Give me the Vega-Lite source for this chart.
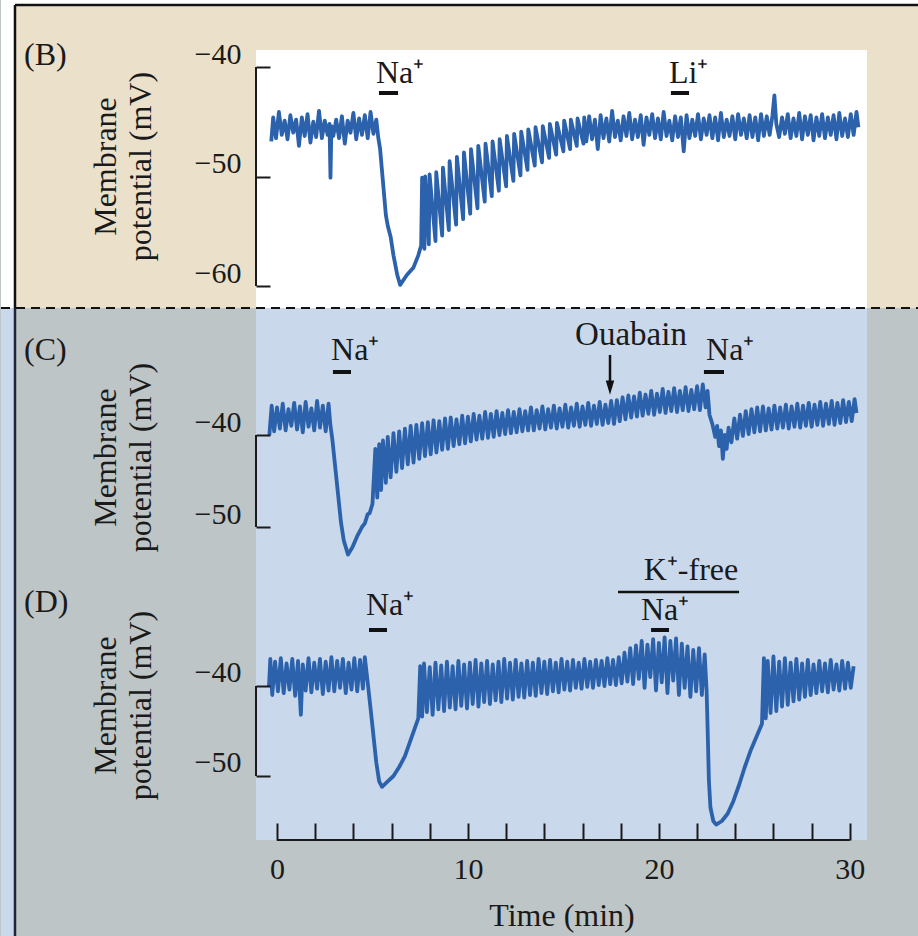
{
"$schema": "https://vega.github.io/schema/vega-lite/v6.json",
"background": "#bec5c6",
"padding": 0,
"autosize": {"type": "pad"},
"spacing": 0,
"bounds": "flush",
"resolve": {"scale": {"x": "independent", "y": "independent"}},
"config": {
  "view": {"stroke": null},
  "font": "Liberation Serif",
  "axis": {"grid": false, "zindex": 1, "labelFont": "Liberation Serif", "titleFont": "Liberation Serif", "labelColor": "#1a1a1a", "titleColor": "#1a1a1a", "tickColor": "#1a1a1a", "titleFontWeight": "normal", "labelFontSize": 30, "titleFontSize": 32, "tickWidth": 2, "labelFlush": false, "labelOverlap": false}
},
"datasets": {
"traceB": [
{"t":-0.3,"v":-46.8},{"t":-0.2,"v":-44.6},{"t":-0.05,"v":-46.5},{"t":0.1,"v":-44.1},{"t":0.25,"v":-46.2},{"t":0.4,"v":-44.9},{"t":0.55,"v":-46.6},{"t":0.7,"v":-44.4},
{"t":0.85,"v":-46.0},{"t":1.0,"v":-44.8},{"t":1.15,"v":-47.2},{"t":1.3,"v":-44.6},{"t":1.45,"v":-46.3},{"t":1.6,"v":-44.3},{"t":1.75,"v":-46.9},{"t":1.9,"v":-45.0},
{"t":2.05,"v":-46.4},{"t":2.2,"v":-44.0},{"t":2.35,"v":-46.5},{"t":2.5,"v":-44.9},{"t":2.65,"v":-46.2},{"t":2.75,"v":-45.2},{"t":2.8,"v":-50.1},{"t":2.85,"v":-45.4},
{"t":2.95,"v":-46.3},{"t":3.1,"v":-44.8},{"t":3.25,"v":-46.5},{"t":3.4,"v":-44.5},{"t":3.55,"v":-47.0},{"t":3.7,"v":-44.9},{"t":3.85,"v":-46.0},{"t":4.0,"v":-44.2},
{"t":4.15,"v":-46.6},{"t":4.3,"v":-44.7},{"t":4.45,"v":-46.2},{"t":4.6,"v":-44.4},{"t":4.75,"v":-46.5},{"t":4.9,"v":-44.1},{"t":5.05,"v":-46.1},{"t":5.2,"v":-44.8},
{"t":5.3,"v":-46.4},{"t":5.4,"v":-47.5},{"t":5.5,"v":-49.5},{"t":5.6,"v":-51.5},{"t":5.7,"v":-53.5},{"t":5.8,"v":-54.5},{"t":5.95,"v":-55.5},{"t":6.1,"v":-57.2},
{"t":6.3,"v":-59.0},{"t":6.45,"v":-59.9},{"t":6.8,"v":-59.0},{"t":7.15,"v":-58.3},{"t":7.4,"v":-57.2},{"t":7.55,"v":-56.3},
{"t":7.6,"v":-50.1},{"t":7.72,"v":-56.6},{"t":7.76,"v":-50.0},{"t":7.95,"v":-56.2},{"t":7.99,"v":-49.8},{"t":8.3,"v":-55.9},{"t":8.34,"v":-49.6},{"t":8.65,"v":-55.4},
{"t":8.69,"v":-49.2},{"t":9.0,"v":-54.9},{"t":9.04,"v":-48.6},{"t":9.38,"v":-54.4},{"t":9.42,"v":-48.2},{"t":9.75,"v":-53.9},{"t":9.79,"v":-47.8},{"t":10.12,"v":-53.4},
{"t":10.16,"v":-47.5},{"t":10.5,"v":-52.9},{"t":10.54,"v":-47.2},{"t":10.88,"v":-52.3},{"t":10.92,"v":-47.0},{"t":11.25,"v":-51.8},{"t":11.29,"v":-46.8},{"t":11.62,"v":-51.3},
{"t":11.66,"v":-46.6},{"t":12.0,"v":-50.9},{"t":12.04,"v":-46.3},{"t":12.38,"v":-50.4},{"t":12.42,"v":-46.1},{"t":12.75,"v":-49.9},{"t":12.79,"v":-45.9},{"t":13.12,"v":-49.4},
{"t":13.16,"v":-45.7},{"t":13.5,"v":-49.0},{"t":13.54,"v":-45.5},{"t":13.88,"v":-48.7},{"t":13.92,"v":-45.4},{"t":14.25,"v":-48.3},{"t":14.29,"v":-45.2},{"t":14.62,"v":-48.0},
{"t":14.66,"v":-45.1},{"t":15.0,"v":-47.7},{"t":15.04,"v":-44.9},{"t":15.35,"v":-47.5},{"t":15.39,"v":-44.8},{"t":15.7,"v":-47.2},{"t":15.74,"v":-44.7},{"t":16.05,"v":-47.0},
{"t":16.09,"v":-44.6},{"t":16.2,"v":-46.8},{"t":16.35,"v":-44.5},{"t":16.5,"v":-46.6},{"t":16.65,"v":-44.8},{"t":16.8,"v":-47.5},{"t":16.95,"v":-44.4},{"t":17.1,"v":-46.5},
{"t":17.25,"v":-44.7},{"t":17.4,"v":-46.8},{"t":17.55,"v":-44.0},{"t":17.7,"v":-46.4},{"t":17.85,"v":-44.9},{"t":18.0,"v":-46.7},{"t":18.15,"v":-44.5},{"t":18.3,"v":-46.3},
{"t":18.45,"v":-44.2},{"t":18.6,"v":-46.6},{"t":18.75,"v":-44.8},{"t":18.9,"v":-46.4},{"t":19.05,"v":-44.4},{"t":19.2,"v":-47.1},{"t":19.35,"v":-44.6},{"t":19.5,"v":-46.2},
{"t":19.65,"v":-44.3},{"t":19.8,"v":-46.5},{"t":19.95,"v":-44.7},{"t":20.1,"v":-46.6},{"t":20.25,"v":-44.1},{"t":20.4,"v":-46.3},{"t":20.55,"v":-44.9},{"t":20.7,"v":-46.7},
{"t":20.85,"v":-44.5},{"t":21.0,"v":-46.4},{"t":21.15,"v":-44.6},{"t":21.3,"v":-47.7},{"t":21.45,"v":-44.4},{"t":21.6,"v":-46.5},{"t":21.75,"v":-44.8},{"t":21.9,"v":-46.3},
{"t":22.05,"v":-44.3},{"t":22.2,"v":-46.6},{"t":22.35,"v":-44.7},{"t":22.5,"v":-46.2},{"t":22.65,"v":-44.4},{"t":22.8,"v":-46.5},{"t":22.95,"v":-44.6},{"t":23.1,"v":-46.7},
{"t":23.25,"v":-44.2},{"t":23.4,"v":-46.4},{"t":23.55,"v":-44.8},{"t":23.7,"v":-46.3},{"t":23.85,"v":-44.5},{"t":24.0,"v":-46.6},{"t":24.15,"v":-44.3},{"t":24.3,"v":-46.2},
{"t":24.45,"v":-44.7},{"t":24.6,"v":-46.5},{"t":24.75,"v":-44.4},{"t":24.9,"v":-46.4},{"t":25.05,"v":-44.6},{"t":25.2,"v":-46.7},{"t":25.35,"v":-44.3},{"t":25.5,"v":-46.3},
{"t":25.65,"v":-44.5},{"t":25.8,"v":-46.2},{"t":25.95,"v":-44.4},{"t":26.05,"v":-42.6},{"t":26.15,"v":-45.2},{"t":26.3,"v":-46.4},{"t":26.45,"v":-44.6},{"t":26.6,"v":-46.1},
{"t":26.75,"v":-44.3},{"t":26.9,"v":-46.5},{"t":27.05,"v":-44.7},{"t":27.2,"v":-46.3},{"t":27.35,"v":-44.2},{"t":27.5,"v":-46.6},{"t":27.65,"v":-44.5},{"t":27.8,"v":-46.2},
{"t":27.95,"v":-44.4},{"t":28.1,"v":-46.7},{"t":28.25,"v":-44.6},{"t":28.4,"v":-46.3},{"t":28.55,"v":-44.3},{"t":28.7,"v":-46.5},{"t":28.85,"v":-44.6},{"t":29.0,"v":-46.2},
{"t":29.15,"v":-44.4},{"t":29.3,"v":-46.6},{"t":29.45,"v":-44.2},{"t":29.6,"v":-46.3},{"t":29.75,"v":-44.7},{"t":29.9,"v":-46.4},{"t":30.05,"v":-44.3},{"t":30.2,"v":-46.2},
{"t":30.35,"v":-44.1},{"t":30.45,"v":-45.5}
],
"traceC": [
{"t":-0.4,"v":-40.0},{"t":-0.28,"v":-36.8},{"t":-0.15,"v":-39.6},{"t":0.0,"v":-37.0},{"t":0.15,"v":-39.3},{"t":0.3,"v":-36.6},{"t":0.45,"v":-39.5},{"t":0.6,"v":-37.2},
{"t":0.75,"v":-39.0},{"t":0.9,"v":-36.5},{"t":1.05,"v":-39.4},{"t":1.2,"v":-36.9},{"t":1.35,"v":-39.7},{"t":1.5,"v":-36.4},{"t":1.65,"v":-39.1},{"t":1.8,"v":-37.1},
{"t":1.95,"v":-39.5},{"t":2.1,"v":-36.3},{"t":2.25,"v":-39.2},{"t":2.4,"v":-36.8},{"t":2.55,"v":-39.6},{"t":2.7,"v":-36.6},{"t":2.8,"v":-39.0},{"t":2.9,"v":-40.5},
{"t":3.05,"v":-43.5},{"t":3.2,"v":-46.5},{"t":3.35,"v":-49.5},{"t":3.5,"v":-51.5},{"t":3.72,"v":-53.0},{"t":3.95,"v":-52.2},{"t":4.2,"v":-51.0},{"t":4.45,"v":-50.0},
{"t":4.6,"v":-49.6},{"t":4.75,"v":-48.6},{"t":4.85,"v":-48.5},{"t":5.0,"v":-47.5},{"t":5.15,"v":-41.5},{"t":5.25,"v":-46.8},{"t":5.35,"v":-41.0},{"t":5.45,"v":-46.0},
{"t":5.55,"v":-40.6},{"t":5.7,"v":-45.2},{"t":5.8,"v":-40.2},{"t":5.95,"v":-44.6},{"t":6.1,"v":-39.8},{"t":6.25,"v":-44.0},{"t":6.4,"v":-39.6},{"t":6.55,"v":-43.6},
{"t":6.7,"v":-39.3},{"t":6.85,"v":-43.2},{"t":7.0,"v":-39.0},{"t":7.15,"v":-43.0},{"t":7.3,"v":-38.9},{"t":7.45,"v":-42.6},{"t":7.6,"v":-38.7},{"t":7.75,"v":-42.3},
{"t":7.9,"v":-38.6},{"t":8.05,"v":-42.1},{"t":8.2,"v":-38.4},{"t":8.35,"v":-41.9},{"t":8.5,"v":-38.5},{"t":8.65,"v":-41.6},{"t":8.8,"v":-38.2},{"t":8.95,"v":-41.5},
{"t":9.1,"v":-38.1},{"t":9.25,"v":-41.2},{"t":9.4,"v":-38.3},{"t":9.55,"v":-41.0},{"t":9.7,"v":-37.9},{"t":9.85,"v":-40.9},{"t":10.0,"v":-38.0},{"t":10.15,"v":-40.7},
{"t":10.3,"v":-37.7},{"t":10.45,"v":-40.5},{"t":10.6,"v":-37.9},{"t":10.75,"v":-40.4},{"t":10.9,"v":-37.5},{"t":11.05,"v":-40.3},{"t":11.2,"v":-37.7},{"t":11.35,"v":-40.2},
{"t":11.5,"v":-37.4},{"t":11.65,"v":-40.0},{"t":11.8,"v":-37.6},{"t":11.95,"v":-39.9},{"t":12.1,"v":-37.3},{"t":12.25,"v":-39.8},{"t":12.4,"v":-37.5},{"t":12.55,"v":-39.7},
{"t":12.7,"v":-37.2},{"t":12.85,"v":-39.6},{"t":13.0,"v":-37.4},{"t":13.15,"v":-39.5},{"t":13.3,"v":-37.0},{"t":13.45,"v":-39.5},{"t":13.6,"v":-37.3},{"t":13.75,"v":-39.3},
{"t":13.9,"v":-36.9},{"t":14.05,"v":-39.4},{"t":14.2,"v":-37.2},{"t":14.35,"v":-39.2},{"t":14.5,"v":-36.8},{"t":14.65,"v":-39.3},{"t":14.8,"v":-37.1},{"t":14.95,"v":-39.1},
{"t":15.1,"v":-36.7},{"t":15.25,"v":-39.2},{"t":15.4,"v":-37.0},{"t":15.55,"v":-39.0},{"t":15.7,"v":-36.6},{"t":15.85,"v":-39.1},{"t":16.0,"v":-36.9},{"t":16.15,"v":-38.9},
{"t":16.3,"v":-36.5},{"t":16.45,"v":-39.0},{"t":16.6,"v":-36.8},{"t":16.75,"v":-38.8},{"t":16.9,"v":-36.4},{"t":17.05,"v":-38.9},{"t":17.2,"v":-36.7},{"t":17.35,"v":-38.7},
{"t":17.5,"v":-36.3},{"t":17.65,"v":-38.8},{"t":17.8,"v":-36.2},{"t":17.95,"v":-38.5},{"t":18.1,"v":-35.9},{"t":18.25,"v":-38.3},{"t":18.4,"v":-35.7},{"t":18.55,"v":-38.1},
{"t":18.7,"v":-35.8},{"t":18.85,"v":-38.0},{"t":19.0,"v":-35.4},{"t":19.15,"v":-37.9},{"t":19.3,"v":-35.6},{"t":19.45,"v":-37.7},{"t":19.6,"v":-35.2},{"t":19.75,"v":-37.8},
{"t":19.9,"v":-35.5},{"t":20.05,"v":-37.5},{"t":20.2,"v":-35.0},{"t":20.35,"v":-37.6},{"t":20.5,"v":-35.3},{"t":20.65,"v":-37.4},{"t":20.8,"v":-34.9},{"t":20.95,"v":-37.5},
{"t":21.1,"v":-35.2},{"t":21.25,"v":-37.3},{"t":21.4,"v":-34.8},{"t":21.55,"v":-37.4},{"t":21.7,"v":-35.1},{"t":21.85,"v":-37.2},{"t":22.0,"v":-34.7},{"t":22.15,"v":-37.3},
{"t":22.3,"v":-34.5},{"t":22.45,"v":-37.0},{"t":22.55,"v":-35.2},{"t":22.65,"v":-37.8},{"t":22.8,"v":-38.8},{"t":22.95,"v":-40.2},{"t":23.05,"v":-39.0},{"t":23.15,"v":-41.2},
{"t":23.25,"v":-39.5},{"t":23.35,"v":-42.6},{"t":23.45,"v":-40.0},{"t":23.55,"v":-41.5},{"t":23.65,"v":-39.2},{"t":23.8,"v":-40.8},{"t":23.95,"v":-38.2},{"t":24.1,"v":-40.4},
{"t":24.25,"v":-37.8},{"t":24.4,"v":-40.1},{"t":24.55,"v":-37.4},{"t":24.7,"v":-39.9},{"t":24.85,"v":-37.2},{"t":25.0,"v":-39.7},{"t":25.15,"v":-37.0},{"t":25.3,"v":-39.6},
{"t":25.45,"v":-36.9},{"t":25.6,"v":-39.5},{"t":25.75,"v":-37.1},{"t":25.9,"v":-39.4},{"t":26.05,"v":-36.8},{"t":26.2,"v":-39.3},{"t":26.35,"v":-37.0},{"t":26.5,"v":-39.2},
{"t":26.65,"v":-36.7},{"t":26.8,"v":-39.3},{"t":26.95,"v":-36.9},{"t":27.1,"v":-39.1},{"t":27.25,"v":-36.6},{"t":27.4,"v":-39.2},{"t":27.55,"v":-36.8},{"t":27.7,"v":-39.0},
{"t":27.85,"v":-36.5},{"t":28.0,"v":-39.1},{"t":28.15,"v":-36.7},{"t":28.3,"v":-38.9},{"t":28.45,"v":-36.4},{"t":28.6,"v":-39.0},{"t":28.75,"v":-36.6},{"t":28.9,"v":-38.8},
{"t":29.05,"v":-36.3},{"t":29.2,"v":-38.9},{"t":29.35,"v":-36.5},{"t":29.5,"v":-38.7},{"t":29.65,"v":-36.2},{"t":29.8,"v":-38.6},{"t":29.95,"v":-36.4},{"t":30.1,"v":-38.5},
{"t":30.25,"v":-36.1},{"t":30.35,"v":-37.6}
],
"traceD": [
{"t":-0.42,"v":-40.0},{"t":-0.35,"v":-37.0},{"t":-0.25,"v":-41.0},{"t":-0.1,"v":-37.3},{"t":0.05,"v":-40.6},{"t":0.2,"v":-36.9},{"t":0.35,"v":-40.8},{"t":0.5,"v":-37.5},
{"t":0.65,"v":-40.4},{"t":0.8,"v":-37.0},{"t":0.95,"v":-41.1},{"t":1.1,"v":-37.2},{"t":1.25,"v":-43.2},{"t":1.35,"v":-37.6},{"t":1.5,"v":-40.5},{"t":1.65,"v":-36.9},
{"t":1.8,"v":-40.7},{"t":1.95,"v":-37.4},{"t":2.1,"v":-40.3},{"t":2.25,"v":-37.0},{"t":2.4,"v":-40.9},{"t":2.55,"v":-37.3},{"t":2.7,"v":-40.5},{"t":2.85,"v":-36.8},
{"t":3.0,"v":-40.6},{"t":3.15,"v":-37.2},{"t":3.3,"v":-40.2},{"t":3.45,"v":-37.0},{"t":3.6,"v":-40.8},{"t":3.75,"v":-37.4},{"t":3.9,"v":-40.4},{"t":4.05,"v":-36.9},
{"t":4.2,"v":-40.6},{"t":4.35,"v":-37.1},{"t":4.5,"v":-40.3},{"t":4.6,"v":-36.8},{"t":4.75,"v":-39.6},{"t":4.9,"v":-42.5},{"t":5.05,"v":-45.5},{"t":5.2,"v":-48.5},
{"t":5.35,"v":-50.6},{"t":5.5,"v":-51.2},{"t":5.8,"v":-50.6},{"t":6.1,"v":-50.0},{"t":6.4,"v":-49.0},{"t":6.7,"v":-47.8},{"t":6.95,"v":-46.3},{"t":7.2,"v":-44.8},
{"t":7.4,"v":-43.6},{"t":7.5,"v":-37.8},{"t":7.6,"v":-43.4},{"t":7.7,"v":-37.5},{"t":7.85,"v":-42.9},{"t":8.0,"v":-37.9},{"t":8.15,"v":-43.2},{"t":8.3,"v":-37.4},
{"t":8.45,"v":-42.6},{"t":8.6,"v":-37.7},{"t":8.75,"v":-42.8},{"t":8.9,"v":-37.3},{"t":9.05,"v":-42.4},{"t":9.2,"v":-37.8},{"t":9.35,"v":-42.6},{"t":9.5,"v":-37.2},
{"t":9.65,"v":-42.2},{"t":9.8,"v":-37.6},{"t":9.95,"v":-42.5},{"t":10.1,"v":-37.4},{"t":10.25,"v":-42.0},{"t":10.4,"v":-37.1},{"t":10.55,"v":-42.3},{"t":10.7,"v":-37.5},
{"t":10.85,"v":-41.8},{"t":11.0,"v":-37.2},{"t":11.15,"v":-42.0},{"t":11.3,"v":-37.6},{"t":11.45,"v":-41.6},{"t":11.6,"v":-37.3},{"t":11.75,"v":-41.8},{"t":11.9,"v":-37.0},
{"t":12.05,"v":-41.4},{"t":12.2,"v":-37.4},{"t":12.35,"v":-41.5},{"t":12.5,"v":-37.1},{"t":12.65,"v":-41.2},{"t":12.8,"v":-37.5},{"t":12.95,"v":-41.3},{"t":13.1,"v":-37.2},
{"t":13.25,"v":-41.0},{"t":13.4,"v":-37.4},{"t":13.55,"v":-41.1},{"t":13.7,"v":-37.0},{"t":13.85,"v":-40.8},{"t":14.0,"v":-37.3},{"t":14.15,"v":-40.9},{"t":14.3,"v":-37.1},
{"t":14.45,"v":-40.6},{"t":14.6,"v":-37.4},{"t":14.75,"v":-40.7},{"t":14.9,"v":-37.0},{"t":15.05,"v":-40.4},{"t":15.2,"v":-37.3},{"t":15.35,"v":-40.5},{"t":15.5,"v":-37.1},
{"t":15.65,"v":-40.2},{"t":15.8,"v":-37.4},{"t":15.95,"v":-40.3},{"t":16.1,"v":-37.0},{"t":16.25,"v":-40.1},{"t":16.4,"v":-37.3},{"t":16.55,"v":-40.2},{"t":16.7,"v":-37.1},
{"t":16.85,"v":-39.9},{"t":17.0,"v":-37.2},{"t":17.15,"v":-40.0},{"t":17.3,"v":-36.9},{"t":17.45,"v":-39.8},{"t":17.6,"v":-37.1},{"t":17.75,"v":-39.9},{"t":17.9,"v":-36.8},
{"t":18.05,"v":-39.7},{"t":18.2,"v":-36.3},{"t":18.35,"v":-39.5},{"t":18.5,"v":-35.8},{"t":18.65,"v":-39.8},{"t":18.8,"v":-35.5},{"t":18.95,"v":-39.2},{"t":19.1,"v":-35.0},
{"t":19.25,"v":-40.2},{"t":19.4,"v":-35.4},{"t":19.55,"v":-39.0},{"t":19.7,"v":-34.8},{"t":19.85,"v":-40.5},{"t":20.0,"v":-35.2},{"t":20.15,"v":-39.6},{"t":20.3,"v":-34.6},
{"t":20.45,"v":-40.8},{"t":20.6,"v":-35.0},{"t":20.75,"v":-39.4},{"t":20.9,"v":-34.7},{"t":21.05,"v":-41.0},{"t":21.2,"v":-35.3},{"t":21.35,"v":-40.2},{"t":21.5,"v":-35.6},
{"t":21.65,"v":-41.2},{"t":21.8,"v":-36.0},{"t":21.95,"v":-40.6},{"t":22.1,"v":-35.8},{"t":22.25,"v":-41.0},{"t":22.4,"v":-36.5},{"t":22.5,"v":-40.5},{"t":22.55,"v":-44.5},
{"t":22.62,"v":-50.5},{"t":22.7,"v":-53.5},{"t":22.85,"v":-55.0},{"t":23.0,"v":-55.4},{"t":23.3,"v":-55.0},{"t":23.6,"v":-54.2},{"t":23.9,"v":-52.8},{"t":24.2,"v":-51.0},
{"t":24.5,"v":-49.0},{"t":24.8,"v":-47.2},{"t":25.1,"v":-45.7},{"t":25.4,"v":-44.2},{"t":25.5,"v":-36.9},{"t":25.6,"v":-43.6},{"t":25.7,"v":-37.2},{"t":25.85,"v":-43.0},
{"t":26.0,"v":-36.7},{"t":26.15,"v":-42.8},{"t":26.3,"v":-37.3},{"t":26.45,"v":-42.3},{"t":26.6,"v":-36.9},{"t":26.75,"v":-42.1},{"t":26.9,"v":-37.4},{"t":27.05,"v":-41.7},
{"t":27.2,"v":-37.0},{"t":27.35,"v":-41.5},{"t":27.5,"v":-37.5},{"t":27.65,"v":-41.2},{"t":27.8,"v":-37.1},{"t":27.95,"v":-41.0},{"t":28.1,"v":-37.6},{"t":28.25,"v":-40.8},
{"t":28.4,"v":-37.2},{"t":28.55,"v":-40.6},{"t":28.7,"v":-37.5},{"t":28.85,"v":-40.7},{"t":29.0,"v":-37.1},{"t":29.15,"v":-40.4},{"t":29.3,"v":-37.6},{"t":29.45,"v":-40.5},
{"t":29.6,"v":-37.2},{"t":29.75,"v":-40.3},{"t":29.9,"v":-37.4},{"t":30.05,"v":-40.2},{"t":30.2,"v":-37.8}
],
"notesB": [{"t":5.18,"v":-41.46,"label":"Na⁺"},{"t":20.53,"v":-41.46,"label":"Li⁺"}],
"barsB": [{"t":5.34,"t2":6.34,"v":-42.374},{"t":20.63,"t2":21.58,"v":-42.374}],
"notesC": [{"t":2.83,"v":-31.848,"label":"Na⁺"},{"t":22.47,"v":-31.848,"label":"Na⁺"}],
"barsC": [{"t":2.93,"t2":3.875,"v":-33.152},{"t":22.36,"t2":23.41,"v":-33.152}],
"notesD": [{"t":4.66,"v":-32.11,"label":"Na⁺"},{"t":19.06,"v":-32.67,"label":"Na⁺"}],
"barsD": [{"t":4.818,"t2":5.761,"v":-33.78},{"t":19.59,"t2":20.53,"v":-33.78}]
},
"vconcat": [
{
  "width": 611, "height": 258,
  "view": {"stroke": null, "fill": null},
  "data": {"values": [{}]},
  "layer": [
    {"mark": {"type": "rect", "color": "#ffffff"},
     "encoding": {
       "x": {"datum": -14.455, "type": "quantitative", "scale": {"domain": [-1.1, 30.9], "nice": false, "zero": false}, "axis": null},
       "x2": {"datum": 33.623},
       "y": {"datum": -33.881, "type": "quantitative", "scale": {"domain": [-62.009, -38.447], "nice": false, "zero": false}},
       "y2": {"datum": -62.009}}},
    {"mark": {"type": "rect", "color": "#ebe1cb"},
     "encoding": {"x": {"datum": -13.722, "type": "quantitative", "axis": null}, "x2": {"datum": 33.623}, "y": {"datum": -34.337, "type": "quantitative"}, "y2": {"datum": -62.009}}},
    {"mark": {"type": "rect", "color": "#ffffff"},
     "encoding": {"x": {"datum": -1.1, "type": "quantitative", "axis": null}, "x2": {"datum": 30.9}, "y": {"datum": -38.447, "type": "quantitative"}, "y2": {"datum": -62.009}}},
    {"mark": {"type": "rule", "color": "#111111", "strokeWidth": 2.5},
     "encoding": {"x": {"datum": -13.722, "type": "quantitative", "axis": null}, "x2": {"datum": 33.623}, "y": {"datum": -34.337, "type": "quantitative"}}},
    {"mark": {"type": "rule", "color": "#111111", "strokeWidth": 2.5},
     "encoding": {"x": {"datum": -13.722, "type": "quantitative", "axis": null}, "y": {"datum": -34.337, "type": "quantitative"}, "y2": {"datum": -62.009}}},
    {"mark": {"type": "rule", "color": "#1a1a1a", "strokeWidth": 2},
     "encoding": {"x": {"datum": -1.1, "type": "quantitative", "axis": null}, "y": {"datum": -40, "type": "quantitative"}, "y2": {"datum": -60}}},
    {"data": {"name": "traceB"},
     "mark": {"type": "line", "color": "#2c62ac", "strokeWidth": 3.8, "strokeJoin": "round"},
     "encoding": {
       "x": {"field": "t", "type": "quantitative", "axis": null},
       "y": {"field": "v", "type": "quantitative", "axis": {"zindex": 2, "values": [-40, -50, -60], "domain": false, "tickSize": -14, "labelPadding": 29, "labelOffset": -13, "title": ["Membrane", "potential (mV)"], "titleLineHeight": 35, "titlePadding": 37, "titleY": 116}}}},
    {"data": {"name": "barsB"},
     "mark": {"type": "rule", "color": "#111111", "strokeWidth": 4},
     "encoding": {"x": {"field": "t", "type": "quantitative", "axis": null}, "x2": {"field": "t2"}, "y": {"field": "v", "type": "quantitative"}}},
    {"data": {"name": "notesB"},
     "mark": {"type": "text", "align": "left", "baseline": "alphabetic", "fontSize": 32, "font": "Liberation Serif", "color": "#1a1a1a"},
     "encoding": {"x": {"field": "t", "type": "quantitative", "axis": null}, "y": {"field": "v", "type": "quantitative"}, "text": {"field": "label"}}},
    {"mark": {"type": "text", "align": "left", "baseline": "alphabetic", "fontSize": 32, "font": "Liberation Serif", "color": "#1a1a1a", "text": "(B)"},
     "encoding": {"x": {"datum": -13.25, "type": "quantitative", "axis": null}, "y": {"datum": -39.817, "type": "quantitative"}}}
  ]
},
{
  "width": 611, "height": 257,
  "view": {"stroke": null, "fill": "#c9d8ea"},
  "data": {"values": [{}]},
  "layer": [
    {"mark": {"type": "rect", "color": "#c9d8ea"},
     "encoding": {
       "x": {"datum": -14.455, "type": "quantitative", "scale": {"domain": [-1.1, 30.9], "nice": false, "zero": false}, "axis": null},
       "x2": {"datum": -13.722},
       "y": {"datum": -26.196, "type": "quantitative", "scale": {"domain": [-54.13, -26.196], "nice": false, "zero": false}},
       "y2": {"datum": -54.13}}},
    {"mark": {"type": "rule", "color": "#1c2638", "strokeWidth": 2.5},
     "encoding": {"x": {"datum": -13.722, "type": "quantitative", "axis": null}, "y": {"datum": -26.196, "type": "quantitative"}, "y2": {"datum": -54.13}}},
    {"mark": {"type": "rule", "color": "#1a1a1a", "strokeWidth": 2},
     "encoding": {"x": {"datum": -1.1, "type": "quantitative", "axis": null}, "y": {"datum": -40, "type": "quantitative"}, "y2": {"datum": -50}}},
    {"data": {"name": "traceC"},
     "mark": {"type": "line", "color": "#2c62ac", "strokeWidth": 3.8, "strokeJoin": "round"},
     "encoding": {
       "x": {"field": "t", "type": "quantitative", "axis": null},
       "y": {"field": "v", "type": "quantitative", "axis": {"zindex": 2, "values": [-40, -50], "domain": false, "tickSize": -14, "labelPadding": 29, "labelOffset": -13, "title": ["Membrane", "potential (mV)"], "titleLineHeight": 35, "titlePadding": 37, "titleY": 149}}}},
    {"data": {"name": "barsC"},
     "mark": {"type": "rule", "color": "#111111", "strokeWidth": 4},
     "encoding": {"x": {"field": "t", "type": "quantitative", "axis": null}, "x2": {"field": "t2"}, "y": {"field": "v", "type": "quantitative"}}},
    {"data": {"name": "notesC"},
     "mark": {"type": "text", "align": "left", "baseline": "alphabetic", "fontSize": 32, "font": "Liberation Serif", "color": "#1a1a1a"},
     "encoding": {"x": {"field": "t", "type": "quantitative", "axis": null}, "y": {"field": "v", "type": "quantitative"}, "text": {"field": "label"}}},
    {"data": {"values": [{"t": 18.54, "v": -30.217, "label": "Ouabain"}]},
     "mark": {"type": "text", "align": "center", "baseline": "alphabetic", "fontSize": 33, "font": "Liberation Serif", "color": "#1a1a1a"},
     "encoding": {"x": {"field": "t", "type": "quantitative", "axis": null}, "y": {"field": "v", "type": "quantitative"}, "text": {"field": "label"}}},
    {"data": {"values": [{"t": 17.44, "v": -31.3, "v2": -34.5}]},
     "mark": {"type": "rule", "color": "#111111", "strokeWidth": 2.5},
     "encoding": {"x": {"field": "t", "type": "quantitative", "axis": null}, "y": {"field": "v", "type": "quantitative"}, "y2": {"field": "v2"}}},
    {"data": {"values": [{"t": 17.44, "v": -34.85}]},
     "mark": {"type": "point", "shape": "M-0.6,-1L0.6,-1L0,1Z", "size": 200, "filled": true, "color": "#111111", "opacity": 1},
     "encoding": {"x": {"field": "t", "type": "quantitative", "axis": null}, "y": {"field": "v", "type": "quantitative"}}},
    {"mark": {"type": "rule", "color": "#111111", "strokeWidth": 2, "strokeDash": [9, 6]},
     "encoding": {"x": {"datum": -14.455, "type": "quantitative", "axis": null}, "x2": {"datum": 33.623}, "y": {"datum": -26.196, "type": "quantitative"}}},
    {"mark": {"type": "text", "align": "left", "baseline": "alphabetic", "fontSize": 32, "font": "Liberation Serif", "color": "#1a1a1a", "text": "(C)"},
     "encoding": {"x": {"datum": -13.25, "type": "quantitative", "axis": null}, "y": {"datum": -31.848, "type": "quantitative"}}}
  ]
},
{
  "width": 611, "height": 275,
  "view": {"stroke": null, "fill": "#c9d8ea"},
  "data": {"values": [{}]},
  "layer": [
    {"mark": {"type": "rect", "color": "#c9d8ea"},
     "encoding": {
       "x": {"datum": -14.455, "type": "quantitative", "scale": {"domain": [-1.1, 30.9], "nice": false, "zero": false}},
       "x2": {"datum": -13.722},
       "y": {"datum": -26.556, "type": "quantitative", "scale": {"domain": [-57.111, -26.556], "nice": false, "zero": false}},
       "y2": {"datum": -67.778}}},
    {"mark": {"type": "rule", "color": "#1c2638", "strokeWidth": 2.5},
     "encoding": {"x": {"datum": -13.722, "type": "quantitative"}, "y": {"datum": -26.556, "type": "quantitative"}, "y2": {"datum": -67.778}}},
    {"mark": {"type": "rule", "color": "#1a1a1a", "strokeWidth": 2},
     "encoding": {"x": {"datum": -1.1, "type": "quantitative"}, "y": {"datum": -40, "type": "quantitative"}, "y2": {"datum": -50}}},
    {"mark": {"type": "rule", "color": "#1a1a1a", "strokeWidth": 2},
     "encoding": {"x": {"datum": 0, "type": "quantitative"}, "x2": {"datum": 30}, "y": {"datum": -57.111, "type": "quantitative"}}},
    {"data": {"name": "traceD"},
     "mark": {"type": "line", "color": "#2c62ac", "strokeWidth": 3.8, "strokeJoin": "round"},
     "encoding": {
       "x": {"field": "t", "type": "quantitative", "axis": {"zindex": 2, "values": [0, 2, 4, 6, 8, 10, 12, 14, 16, 18, 20, 22, 24, 26, 28, 30], "domain": false, "tickSize": -17, "labelPadding": 31, "labelExpr": "datum.value % 10 === 0 ? datum.label : ''", "title": "Time (min)", "titlePadding": 16}},
       "y": {"field": "v", "type": "quantitative", "axis": {"zindex": 2, "values": [-40, -50], "domain": false, "tickSize": -14, "labelPadding": 29, "labelOffset": -13, "title": ["Membrane", "potential (mV)"], "titleLineHeight": 35, "titlePadding": 37, "titleY": 140}}}},
    {"data": {"name": "barsD"},
     "mark": {"type": "rule", "color": "#111111", "strokeWidth": 4},
     "encoding": {"x": {"field": "t", "type": "quantitative"}, "x2": {"field": "t2"}, "y": {"field": "v", "type": "quantitative"}}},
    {"data": {"name": "notesD"},
     "mark": {"type": "text", "align": "left", "baseline": "alphabetic", "fontSize": 32, "font": "Liberation Serif", "color": "#1a1a1a"},
     "encoding": {"x": {"field": "t", "type": "quantitative"}, "y": {"field": "v", "type": "quantitative"}, "text": {"field": "label"}}},
    {"data": {"values": [{"t": 21.68, "v": -28.22, "label": "K⁺-free"}]},
     "mark": {"type": "text", "align": "center", "baseline": "alphabetic", "fontSize": 32, "font": "Liberation Serif", "color": "#1a1a1a"},
     "encoding": {"x": {"field": "t", "type": "quantitative"}, "y": {"field": "v", "type": "quantitative"}, "text": {"field": "label"}}},
    {"data": {"values": [{"t": 17.86, "t2": 24.2, "v": -29.556}]},
     "mark": {"type": "rule", "color": "#111111", "strokeWidth": 2.5},
     "encoding": {"x": {"field": "t", "type": "quantitative"}, "x2": {"field": "t2"}, "y": {"field": "v", "type": "quantitative"}}},
    {"mark": {"type": "text", "align": "left", "baseline": "alphabetic", "fontSize": 32, "font": "Liberation Serif", "color": "#1a1a1a", "text": "(D)"},
     "encoding": {"x": {"datum": -13.25, "type": "quantitative"}, "y": {"datum": -31.778, "type": "quantitative"}}}
  ]
}
]
}
